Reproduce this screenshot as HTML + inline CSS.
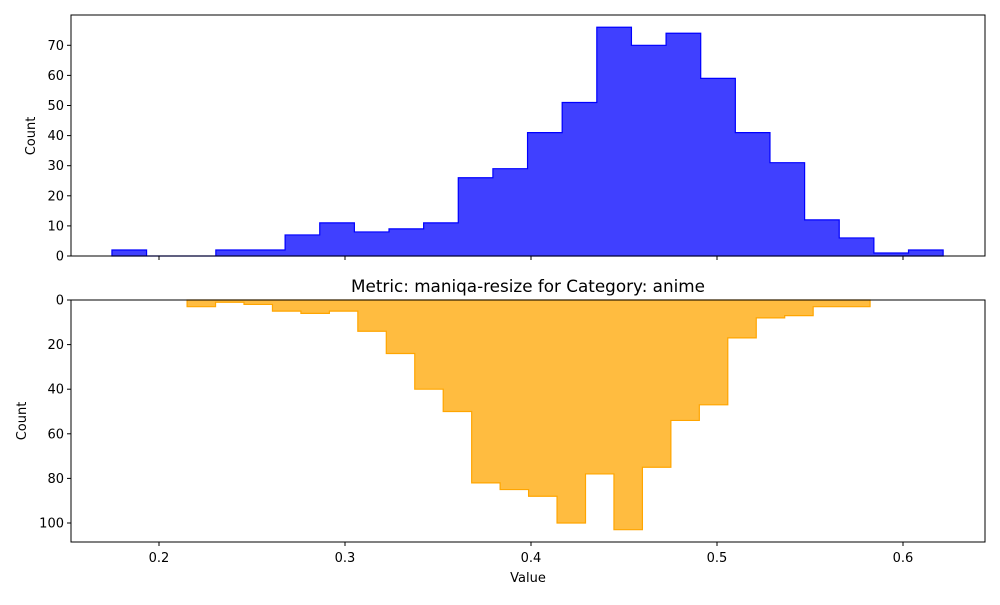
<!DOCTYPE html>
<html><head><meta charset="utf-8"><style>
body{margin:0;background:#fff;font-family:"Liberation Sans","DejaVu Sans",sans-serif}
svg text{font-family:"DejaVu Sans","Liberation Sans",sans-serif;font-size:13px;fill:#000}
</style></head><body>
<svg id="chart" width="1000" height="600" viewBox="0 0 1000 600"></svg>
<script>
const topStart = 0.1747, topWidth = 0.01862;
const topCounts = [2,0,0,2,2,7,11,8,9,11,26,29,41,51,76,70,74,59,41,31,12,6,1,2];
const botStart = 0.2151, botWidth = 0.0153;
const botCounts = [3,1,2,5,6,5,14,24,40,50,82,85,88,100,78,103,75,54,47,17,8,7,3,3];
const xTicks = [0.2,0.3,0.4,0.5,0.6];
const xTickLabels = ["0.2","0.3","0.4","0.5","0.6"];
const topYTicks = [0,10,20,30,40,50,60,70];
const botYTicks = [0,20,40,60,80,100];

const svg = document.getElementById('chart');
const NS = 'http://www.w3.org/2000/svg';
function mk(tag, attrs, parent){const e=document.createElementNS(NS,tag);for(const k in attrs)e.setAttribute(k,attrs[k]);(parent||svg).appendChild(e);return e;}
const L=71,R=985;
const x = v => 159 + (v-0.2)*1860;
const yTop = v => 256 - v*3.01;
const yBot = v => 300 + v*2.23;

function stepPath(start,width,counts,y){
  let d='M'+x(start)+','+y(0);
  counts.forEach((c,i)=>{d+=' L'+x(start+i*width)+','+y(c)+' L'+x(start+(i+1)*width)+','+y(c);});
  d+=' L'+x(start+counts.length*width)+','+y(0)+' Z';
  return d;
}
const h1 = mk('path',{d:stepPath(topStart,topWidth,topCounts,yTop),fill:'rgba(0,0,255,0.75)',stroke:'#0000ff','stroke-width':1.2});


const h2 = mk('path',{d:stepPath(botStart,botWidth,botCounts,yBot),fill:'rgba(255,165,0,0.75)',stroke:'#ffa500','stroke-width':1.2});



const f1 = mk('rect',{x:L,y:15,width:R-L,height:241,fill:'none',stroke:'#000','stroke-width':1});


const f2 = mk('rect',{x:L,y:300,width:R-L,height:242,fill:'none',stroke:'#000','stroke-width':1});



xTicks.forEach((v,i)=>{
  mk('line',{x1:x(v),x2:x(v),y1:256,y2:260,stroke:'#000'});
  mk('line',{x1:x(v),x2:x(v),y1:542,y2:546,stroke:'#000'});
  const t=mk('text',{x:x(v),y:562,'text-anchor':'middle'});t.textContent=xTickLabels[i];
  
  
});
topYTicks.forEach(v=>{
  mk('line',{x1:L-4,x2:L,y1:yTop(v),y2:yTop(v),stroke:'#000'});
  const t=mk('text',{x:L-7,y:yTop(v)+4.5,'text-anchor':'end'});t.textContent=v;
  
  
});
botYTicks.forEach(v=>{
  mk('line',{x1:L-4,x2:L,y1:yBot(v),y2:yBot(v),stroke:'#000'});
  const t=mk('text',{x:L-7,y:yBot(v)+4.5,'text-anchor':'end'});t.textContent=v;
  
  
});
let t=mk('text',{x:528,y:292,'text-anchor':'middle',style:'font-size:16.8px'});t.textContent='Metric: maniqa-resize for Category: anime';


t=mk('text',{x:528,y:582,'text-anchor':'middle'});t.textContent='Value';


t=mk('text',{x:0,y:0,'text-anchor':'middle',transform:'translate(35,136) rotate(-90)'});t.textContent='Count';


t=mk('text',{x:0,y:0,'text-anchor':'middle',transform:'translate(26,421) rotate(-90)'});t.textContent='Count';


</script>
</body></html>
